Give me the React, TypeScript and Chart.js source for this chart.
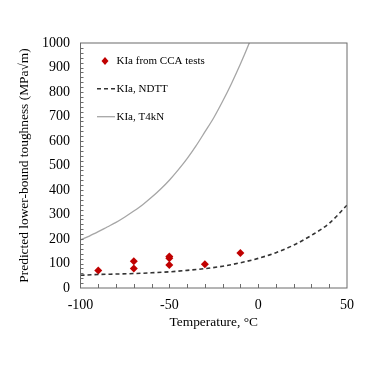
import React, { useEffect, useRef } from "react";
import { Chart, registerables } from "chart.js";

Chart.register(...registerables);

// CCA test results
const testTemps = [-90, -70, -70, -50, -50, -50, -30, -10];
const testKIa = [71, 109, 80, 129, 121, 94, 97, 143];

// KIa, NDTT curve
const ndttTemps = [-100, -90, -80, -70, -60, -50, -40, -30, -20, -10, 0, 10, 20, 30, 40, 50];
const ndttKIa = [52, 55, 57, 59, 62, 66, 72, 79, 89, 103, 121, 144, 175, 215, 264, 338];

// KIa, T4kN curve
const t4knTemps = [-100, -95, -90, -85, -80, -75, -70, -65, -60, -55, -50, -45, -40, -35, -30, -25, -20, -15, -10, -5, 0];
const t4knKIa = [196, 212, 230, 249, 268, 290, 314, 340, 370, 403, 440, 482, 528, 580, 637, 695, 762, 835, 914, 1000, 1092];

const legendLabels = ["KIa from CCA tests", "KIa, NDTT", "KIa, T4kN"];
const xTicksMinor = [-90, -80, -70, -60, -50, -40, -30, -20, -10, 0, 10, 20, 30, 40];
const yTicksMinor = Array.from({ length: 49 }, (_, i) => (i + 1) * 20);

const FONT = "'Liberation Serif', 'Times New Roman', serif";
const RED = "#c00000";
const GREY = "#a6a6a6";
const FRAME = "#6b6b6b";

const framePlugin = {
  id: "frameAndLegend",
  afterDraw(chart: any) {
    const { ctx, chartArea } = chart;
    const { left, top, right, bottom } = chartArea;
    const xs = chart.scales.x;
    const ys = chart.scales.y;
    ctx.save();
    // frame
    ctx.strokeStyle = FRAME;
    ctx.lineWidth = 1;
    ctx.strokeRect(left, top, right - left, bottom - top);
    // inner ticks
    ctx.beginPath();
    for (const v of yTicksMinor) {
      const y = Math.round(ys.getPixelForValue(v)) + 0.5;
      ctx.moveTo(left, y);
      ctx.lineTo(left + 3, y);
    }
    for (const v of xTicksMinor) {
      const x = Math.round(xs.getPixelForValue(v)) + 0.5;
      ctx.moveTo(x, bottom);
      ctx.lineTo(x, bottom - 4);
    }
    ctx.stroke();

    // legend
    const lx0 = left + 16.5;
    const lx1 = left + 34.5;
    const tx = left + 36;
    const rows = [top + 18, top + 45.7, top + 73.7];
    // marker
    ctx.fillStyle = RED;
    const mx = left + 24.5;
    const my = rows[0];
    ctx.beginPath();
    ctx.moveTo(mx, my - 4);
    ctx.lineTo(mx + 3.5, my);
    ctx.lineTo(mx, my + 4);
    ctx.lineTo(mx - 3.5, my);
    ctx.closePath();
    ctx.fill();
    // dashed line
    ctx.strokeStyle = "#333333";
    ctx.lineWidth = 1.5;
    ctx.setLineDash([4, 3]);
    ctx.beginPath();
    ctx.moveTo(lx0, rows[1]);
    ctx.lineTo(lx1, rows[1]);
    ctx.stroke();
    ctx.setLineDash([]);
    // solid grey
    ctx.strokeStyle = GREY;
    ctx.lineWidth = 1.3;
    ctx.beginPath();
    ctx.moveTo(lx0, rows[2]);
    ctx.lineTo(lx1, rows[2]);
    ctx.stroke();
    // text
    ctx.fillStyle = "#000";
    ctx.font = `11px ${FONT}`;
    ctx.textBaseline = "middle";
    ctx.textAlign = "left";
    ctx.fillText(legendLabels[0], tx, rows[0]);
    ctx.fillText(legendLabels[1], tx, rows[1]);
    ctx.fillText(legendLabels[2], tx, rows[2]);
    ctx.restore();
  },
};

export default function App() {
  const ref = useRef<HTMLCanvasElement | null>(null);
  useEffect(() => {
    if (!ref.current) return;
    const chart = new Chart(ref.current, {
      type: "scatter",
      data: {
        datasets: [
          {
            label: legendLabels[2],
            type: "line",
            data: t4knTemps.map((t, i) => ({ x: t, y: t4knKIa[i] })),
            borderColor: GREY,
            borderWidth: 1.3,
            pointRadius: 0,
            cubicInterpolationMode: "monotone",
            fill: false,
          },
          {
            label: legendLabels[1],
            type: "line",
            data: ndttTemps.map((t, i) => ({ x: t, y: ndttKIa[i] })),
            borderColor: "#333333",
            borderWidth: 1.6,
            borderDash: [4, 3],
            pointRadius: 0,
            cubicInterpolationMode: "monotone",
            fill: false,
          },
          {
            label: legendLabels[0],
            data: testTemps.map((t, i) => ({ x: t, y: testKIa[i] })),
            backgroundColor: RED,
            borderColor: RED,
            pointStyle: "rectRot",
            pointRadius: 4,
            borderWidth: 0,
          },
        ],
      },
      options: {
        responsive: false,
        animation: false,
        layout: { padding: { left: 0, top: 43, right: 29, bottom: 0 } },
        plugins: { legend: { display: false }, tooltip: { enabled: false } },
        scales: {
          x: {
            type: "linear",
            min: -100,
            max: 50,
            border: { display: false },
            grid: { display: false },
            ticks: {
              stepSize: 50,
              padding: 1,
              color: "#000",
              font: { family: FONT, size: 14 },
              callback: (v: any) => String(v),
            },
            title: {
              display: true,
              text: "Temperature, °C",
              color: "#000",
              font: { family: FONT, size: 13.4 },
              padding: { top: 0, bottom: 36.6 },
            },
            afterFit(scale: any) {
              scale.height = 79;
            },
          },
          y: {
            type: "linear",
            min: 0,
            max: 1000,
            border: { display: false },
            grid: { display: false },
            ticks: {
              stepSize: 100,
              padding: 2.5,
              color: "#000",
              font: { family: FONT, size: 14 },
              callback: (v: any) => String(v),
            },
            title: {
              display: true,
              text: "Predicted lower-bound toughness (MPa√m)",
              color: "#000",
              font: { family: FONT, size: 13.4 },
              padding: { top: 16.6, bottom: 0 },
            },
            afterFit(scale: any) {
              scale.width = 80.5;
            },
          },
        },
      },
      plugins: [framePlugin],
    });
    return () => chart.destroy();
  }, []);
  return (
    <div style={{ position: "fixed", left: 0, top: 0, width: 376, height: 367, background: "#fff" }}>
      <canvas ref={ref} width={376} height={367} />
    </div>
  );
}
